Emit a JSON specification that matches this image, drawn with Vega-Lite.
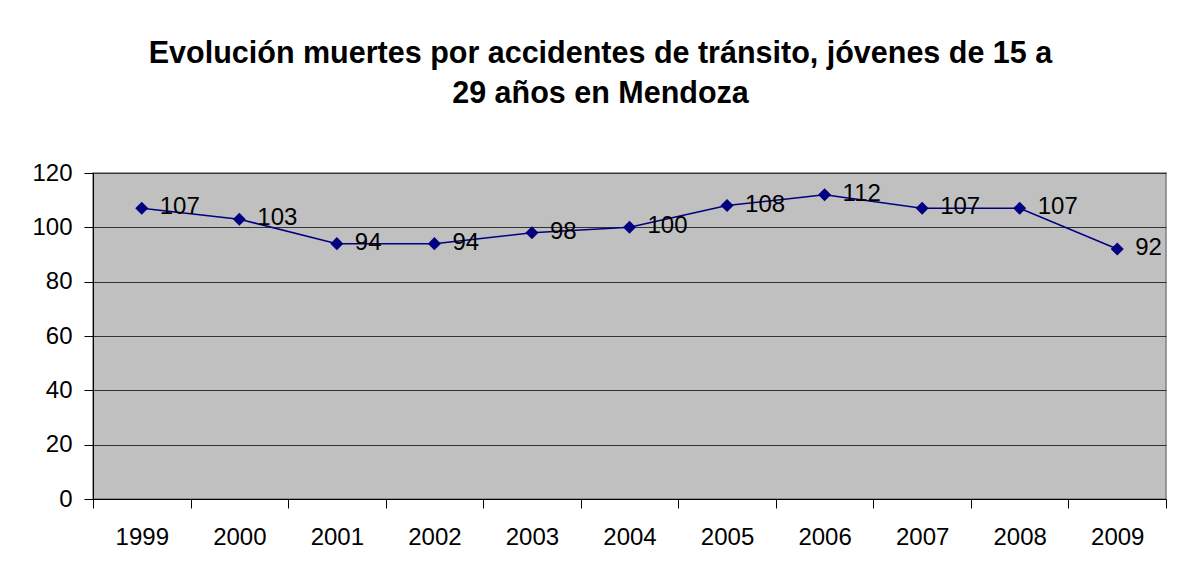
{
  "$schema": "https://vega.github.io/schema/vega-lite/v6.json",
  "autosize": "none",
  "width": 1073,
  "height": 326,
  "padding": {"left": 93, "top": 173, "right": 14, "bottom": 74},
  "background": "white",
  "title": {
    "text": ["Evolución muertes por accidentes de tránsito, jóvenes de 15 a", "29 años en Mendoza"],
    "font": "Liberation Sans",
    "fontSize": 30.5,
    "fontWeight": "bold",
    "color": "black",
    "anchor": "middle",
    "frame": "group",
    "dx": -29,
    "offset": 52,
    "lineHeight": 40
  },
  "data": {
    "values": [
      {"year": "1999", "deaths": 107},
      {"year": "2000", "deaths": 103},
      {"year": "2001", "deaths": 94},
      {"year": "2002", "deaths": 94},
      {"year": "2003", "deaths": 98},
      {"year": "2004", "deaths": 100},
      {"year": "2005", "deaths": 108},
      {"year": "2006", "deaths": 112},
      {"year": "2007", "deaths": 107},
      {"year": "2008", "deaths": 107},
      {"year": "2009", "deaths": 92}
    ]
  },
  "encoding": {
    "x": {
      "field": "year",
      "type": "ordinal",
      "scale": {"type": "band", "paddingInner": 0, "paddingOuter": 0},
      "axis": {
        "title": null,
        "labelAngle": 0,
        "labelFont": "Liberation Sans",
        "labelFontSize": 24,
        "labelColor": "black",
        "labelPadding": 17,
        "tickBand": "extent",
        "tickSize": 9,
        "tickColor": "black",
        "domainColor": "black",
        "grid": false
      }
    },
    "y": {
      "field": "deaths",
      "type": "quantitative",
      "scale": {"domain": [0, 120], "nice": false, "zero": true},
      "axis": {
        "title": null,
        "values": [0, 20, 40, 60, 80, 100, 120],
        "labelFont": "Liberation Sans",
        "labelFontSize": 24,
        "labelColor": "black",
        "labelPadding": 12,
        "tickSize": 9,
        "tickColor": "black",
        "domainColor": "black",
        "grid": true,
        "gridColor": "#333333",
        "gridOpacity": 1,
        "gridWidth": 1
      }
    }
  },
  "layer": [
    {
      "mark": {"type": "line", "color": "#000080", "strokeWidth": 1.5}
    },
    {
      "mark": {"type": "point", "shape": "diamond", "filled": true, "color": "#000080", "opacity": 1, "size": 170}
    },
    {
      "mark": {"type": "text", "align": "left", "baseline": "middle", "dx": 18, "dy": -1, "font": "Liberation Sans", "fontSize": 24, "color": "black"},
      "encoding": {"text": {"field": "deaths", "type": "quantitative"}}
    }
  ],
  "config": {
    "view": {"fill": "#C0C0C0", "stroke": "#808080", "strokeWidth": 1.5}
  }
}
